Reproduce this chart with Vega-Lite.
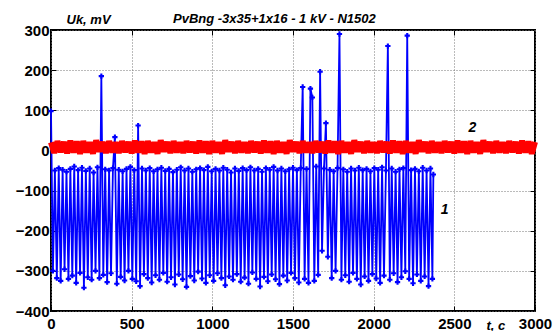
{
  "$schema": "https://vega.github.io/schema/vega-lite/v6.json",
  "width": 484,
  "height": 281,
  "autosize": "none",
  "padding": {"left": 51, "top": 30, "right": 18, "bottom": 20},
  "background": "white",
  "title": {
    "text": "PvBng -3x35+1x16 - 1 kV - N1502",
    "anchor": "start",
    "frame": "group",
    "dx": 122,
    "offset": -23,
    "baseline": "alphabetic",
    "font": "Liberation Sans",
    "fontSize": 13,
    "fontStyle": "italic",
    "fontWeight": "bold",
    "color": "black"
  },
  "config": {
    "view": {"stroke": "black", "strokeWidth": 2},
    "axis": {
      "labelFont": "Liberation Sans",
      "labelFontSize": 15,
      "labelFontWeight": "bold",
      "labelColor": "black",
      "titleFont": "Liberation Sans",
      "titleFontSize": 13,
      "titleFontWeight": "bold",
      "titleFontStyle": "italic",
      "titleColor": "black",
      "tickColor": "black",
      "tickWidth": 1,
      "tickSize": -5,
      "domain": false,
      "gridColor": "#777777",
      "gridDash": [1, 2],
      "gridWidth": 1,
      "gridOpacity": 1,
      "labelFlush": false,
      "labelOverlap": false,
      "format": "d"
    }
  },
  "datasets": {
    "blue": [
      {"t":0,"v":98},{"t":12,"v":-300},{"t":24,"v":-50},{"t":36,"v":-318},{"t":48,"v":-44},{"t":60,"v":-325},{"t":72,"v":-48},{"t":84,"v":-296},{"t":96,"v":-53},{"t":108,"v":-320},
      {"t":120,"v":-46},{"t":132,"v":-312},{"t":144,"v":-40},{"t":156,"v":-330},{"t":168,"v":-49},{"t":180,"v":-305},{"t":192,"v":-43},{"t":204,"v":-342},{"t":216,"v":-51},{"t":228,"v":-316},
      {"t":240,"v":-45},{"t":252,"v":-322},{"t":264,"v":-55},{"t":276,"v":-300},{"t":288,"v":-42},{"t":300,"v":-318},{"t":312,"v":185},{"t":324,"v":-310},{"t":336,"v":-47},{"t":348,"v":-328},
      {"t":360,"v":-50},{"t":372,"v":-306},{"t":384,"v":-44},{"t":396,"v":33},{"t":408,"v":-332},{"t":420,"v":-48},{"t":432,"v":-315},{"t":444,"v":-52},{"t":456,"v":-324},{"t":468,"v":-46},
      {"t":480,"v":-300},{"t":492,"v":-41},{"t":504,"v":-320},{"t":516,"v":-49},{"t":528,"v":-326},{"t":540,"v":62},{"t":552,"v":-338},{"t":564,"v":-45},{"t":576,"v":-308},{"t":588,"v":-50},
      {"t":600,"v":-318},{"t":612,"v":-44},{"t":624,"v":-329},{"t":636,"v":-52},{"t":648,"v":-311},{"t":660,"v":-47},{"t":672,"v":-322},{"t":684,"v":-43},{"t":696,"v":-305},{"t":708,"v":-51},
      {"t":720,"v":-327},{"t":732,"v":-46},{"t":744,"v":-316},{"t":756,"v":-54},{"t":768,"v":-334},{"t":780,"v":-48},{"t":792,"v":-309},{"t":804,"v":-42},{"t":816,"v":-321},{"t":828,"v":-50},
      {"t":840,"v":-340},{"t":852,"v":-45},{"t":864,"v":-313},{"t":876,"v":-53},{"t":888,"v":-324},{"t":900,"v":-47},{"t":912,"v":-302},{"t":924,"v":-44},{"t":936,"v":-319},{"t":948,"v":-49},
      {"t":960,"v":-330},{"t":972,"v":-41},{"t":984,"v":-311},{"t":996,"v":-52},{"t":1008,"v":-325},{"t":1020,"v":-46},{"t":1032,"v":-306},{"t":1044,"v":-50},{"t":1056,"v":-318},{"t":1068,"v":-43},
      {"t":1080,"v":-336},{"t":1092,"v":-48},{"t":1104,"v":-314},{"t":1116,"v":-55},{"t":1128,"v":-322},{"t":1140,"v":-45},{"t":1152,"v":-308},{"t":1164,"v":-51},{"t":1176,"v":-327},{"t":1188,"v":-44},
      {"t":1200,"v":-317},{"t":1212,"v":-49},{"t":1224,"v":-332},{"t":1236,"v":-42},{"t":1248,"v":-304},{"t":1260,"v":-50},{"t":1272,"v":-320},{"t":1284,"v":-46},{"t":1296,"v":-339},{"t":1308,"v":-53},
      {"t":1320,"v":-315},{"t":1332,"v":-44},{"t":1344,"v":-326},{"t":1356,"v":-48},{"t":1368,"v":-309},{"t":1380,"v":-41},{"t":1392,"v":-321},{"t":1404,"v":-50},{"t":1416,"v":-333},{"t":1428,"v":-45},
      {"t":1440,"v":-312},{"t":1452,"v":-52},{"t":1464,"v":-324},{"t":1476,"v":-47},{"t":1488,"v":-305},{"t":1500,"v":-43},{"t":1512,"v":-318},{"t":1524,"v":-49},{"t":1536,"v":-329},{"t":1548,"v":-44},
      {"t":1560,"v":158},{"t":1572,"v":-320},{"t":1584,"v":-46},{"t":1596,"v":-330},{"t":1608,"v":154},{"t":1620,"v":132},{"t":1632,"v":-325},{"t":1644,"v":-40},{"t":1656,"v":-310},{"t":1668,"v":196},
      {"t":1680,"v":-250},{"t":1692,"v":-45},{"t":1704,"v":68},{"t":1716,"v":-265},{"t":1728,"v":-48},{"t":1740,"v":-318},{"t":1752,"v":-52},{"t":1764,"v":-300},{"t":1776,"v":-44},{"t":1788,"v":290},
      {"t":1800,"v":-322},{"t":1812,"v":-47},{"t":1824,"v":-311},{"t":1836,"v":-53},{"t":1848,"v":-327},{"t":1860,"v":-45},{"t":1872,"v":-305},{"t":1884,"v":-50},{"t":1896,"v":-320},{"t":1908,"v":-43},
      {"t":1920,"v":-334},{"t":1932,"v":-49},{"t":1944,"v":-314},{"t":1956,"v":-46},{"t":1968,"v":-325},{"t":1980,"v":-52},{"t":1992,"v":-308},{"t":2004,"v":-44},{"t":2016,"v":-319},{"t":2028,"v":-48},
      {"t":2040,"v":-330},{"t":2052,"v":-42},{"t":2064,"v":-312},{"t":2076,"v":-50},{"t":2088,"v":260},{"t":2100,"v":-322},{"t":2112,"v":-45},{"t":2124,"v":-306},{"t":2136,"v":-53},{"t":2148,"v":-328},
      {"t":2160,"v":-47},{"t":2172,"v":-316},{"t":2184,"v":-44},{"t":2196,"v":-301},{"t":2208,"v":286},{"t":2220,"v":-320},{"t":2232,"v":-49},{"t":2244,"v":-331},{"t":2256,"v":-46},{"t":2268,"v":-309},
      {"t":2280,"v":-52},{"t":2292,"v":-325},{"t":2304,"v":-43},{"t":2316,"v":-314},{"t":2328,"v":-50},{"t":2340,"v":-338},{"t":2352,"v":-45},{"t":2364,"v":-320},{"t":2370,"v":-60}
    ],
    "red": [
      {"t":0,"v":20},{"t":20,"v":-6},{"t":40,"v":23},{"t":60,"v":-4},{"t":80,"v":21},{"t":100,"v":-7},{"t":120,"v":24},{"t":140,"v":-5},{"t":160,"v":22},{"t":180,"v":-8},
      {"t":200,"v":23},{"t":220,"v":-5},{"t":240,"v":20},{"t":260,"v":-8},{"t":280,"v":25},{"t":300,"v":-3},{"t":320,"v":21},{"t":340,"v":-6},{"t":360,"v":23},{"t":380,"v":-5},
      {"t":400,"v":20},{"t":420,"v":-6},{"t":440,"v":23},{"t":460,"v":-4},{"t":480,"v":21},{"t":500,"v":-7},{"t":520,"v":24},{"t":540,"v":-5},{"t":560,"v":22},{"t":580,"v":-8},
      {"t":600,"v":23},{"t":620,"v":-5},{"t":640,"v":20},{"t":660,"v":-8},{"t":680,"v":25},{"t":700,"v":-3},{"t":720,"v":21},{"t":740,"v":-6},{"t":760,"v":23},{"t":780,"v":-5},
      {"t":800,"v":20},{"t":820,"v":-6},{"t":840,"v":23},{"t":860,"v":-4},{"t":880,"v":21},{"t":900,"v":-7},{"t":920,"v":24},{"t":940,"v":-5},{"t":960,"v":22},{"t":980,"v":-8},
      {"t":1000,"v":23},{"t":1020,"v":-5},{"t":1040,"v":20},{"t":1060,"v":-8},{"t":1080,"v":25},{"t":1100,"v":-3},{"t":1120,"v":21},{"t":1140,"v":-6},{"t":1160,"v":23},{"t":1180,"v":-5},
      {"t":1200,"v":20},{"t":1220,"v":-6},{"t":1240,"v":23},{"t":1260,"v":-4},{"t":1280,"v":21},{"t":1300,"v":-7},{"t":1320,"v":24},{"t":1340,"v":-5},{"t":1360,"v":22},{"t":1380,"v":-8},
      {"t":1400,"v":23},{"t":1420,"v":-5},{"t":1440,"v":20},{"t":1460,"v":-8},{"t":1480,"v":25},{"t":1500,"v":-3},{"t":1520,"v":21},{"t":1540,"v":-6},{"t":1560,"v":23},{"t":1580,"v":-5},
      {"t":1600,"v":20},{"t":1620,"v":-6},{"t":1640,"v":23},{"t":1660,"v":-4},{"t":1680,"v":21},{"t":1700,"v":-7},{"t":1720,"v":24},{"t":1740,"v":-5},{"t":1760,"v":22},{"t":1780,"v":-8},
      {"t":1800,"v":23},{"t":1820,"v":-5},{"t":1840,"v":20},{"t":1860,"v":-8},{"t":1880,"v":25},{"t":1900,"v":-3},{"t":1920,"v":21},{"t":1940,"v":-6},{"t":1960,"v":23},{"t":1980,"v":-5},
      {"t":2000,"v":20},{"t":2020,"v":-6},{"t":2040,"v":23},{"t":2060,"v":-4},{"t":2080,"v":21},{"t":2100,"v":-7},{"t":2120,"v":24},{"t":2140,"v":-5},{"t":2160,"v":22},{"t":2180,"v":-8},
      {"t":2200,"v":23},{"t":2220,"v":-5},{"t":2240,"v":20},{"t":2260,"v":-8},{"t":2280,"v":25},{"t":2300,"v":-3},{"t":2320,"v":21},{"t":2340,"v":-6},{"t":2360,"v":23},{"t":2380,"v":-5},
      {"t":2400,"v":20},{"t":2420,"v":-6},{"t":2440,"v":23},{"t":2460,"v":-4},{"t":2480,"v":21},{"t":2500,"v":-7},{"t":2520,"v":24},{"t":2540,"v":-5},{"t":2560,"v":22},{"t":2580,"v":-8},
      {"t":2600,"v":23},{"t":2620,"v":-5},{"t":2640,"v":20},{"t":2660,"v":-8},{"t":2680,"v":25},{"t":2700,"v":-3},{"t":2720,"v":21},{"t":2740,"v":-6},{"t":2760,"v":23},{"t":2780,"v":-5},
      {"t":2800,"v":20},{"t":2820,"v":-6},{"t":2840,"v":23},{"t":2860,"v":-4},{"t":2880,"v":21},{"t":2900,"v":-7},{"t":2920,"v":24},{"t":2940,"v":-5},{"t":2960,"v":22},{"t":2980,"v":-8},
      {"t":3000,"v":21}
    ],
    "labels": [
      {"t":2612,"v":56,"s":"2"},
      {"t":2440,"v":-148,"s":"1"}
    ]
  },
  "resolve": {"axis": {"x": "independent", "y": "independent"}},
  "layer": [
    {
      "data": {"name": "blue"},
      "mark": {"type": "line", "color": "#0000ff", "strokeWidth": 1.8, "point": {"filled": true, "shape": "cross", "size": 28, "color": "#0000ff"}},
      "encoding": {
        "x": {"field": "t", "type": "quantitative", "scale": {"domain": [0, 3000], "nice": false},
          "axis": {"orient": "bottom", "values": [0, 500, 1000, 1500, 2000, 2500, 3000], "grid": true, "labelBaseline": "alphabetic", "labelPadding": 22, "title": "t, c", "titleX": 435, "titleY": 18, "titleAlign": "left", "titleBaseline": "alphabetic", "titleAnchor": null}},
        "y": {"field": "v", "type": "quantitative", "scale": {"domain": [-400, 300], "nice": false},
          "axis": {"orient": "left", "values": [-400, -300, -200, -100, 0, 100, 200, 300], "grid": true, "labelPadding": 7, "title": "Uk, mV", "titleAngle": 0, "titleX": 15, "titleY": -7, "titleAlign": "left", "titleBaseline": "alphabetic", "titleAnchor": null}}
      }
    },
    {
      "data": {"name": "red"},
      "mark": {"type": "line", "color": "#ff0000", "strokeWidth": 6, "strokeJoin": "bevel"},
      "encoding": {
        "x": {"field": "t", "type": "quantitative", "scale": {"domain": [0, 3000], "nice": false}, "axis": null},
        "y": {"field": "v", "type": "quantitative", "scale": {"domain": [-400, 300], "nice": false}, "axis": null}
      }
    },
    {
      "data": {"name": "labels"},
      "mark": {"type": "text", "font": "Liberation Sans", "fontSize": 14, "fontStyle": "italic", "fontWeight": "bold", "color": "black", "align": "center", "baseline": "middle"},
      "encoding": {
        "x": {"field": "t", "type": "quantitative", "scale": {"domain": [0, 3000], "nice": false},
          "axis": {"orient": "top", "values": [500, 1000, 1500, 2000, 2500], "labels": false, "grid": false, "title": null}},
        "y": {"field": "v", "type": "quantitative", "scale": {"domain": [-400, 300], "nice": false},
          "axis": {"orient": "right", "values": [-300, -200, -100, 0, 100, 200], "labels": false, "grid": false, "title": null}},
        "text": {"field": "s"}
      }
    }
  ]
}
